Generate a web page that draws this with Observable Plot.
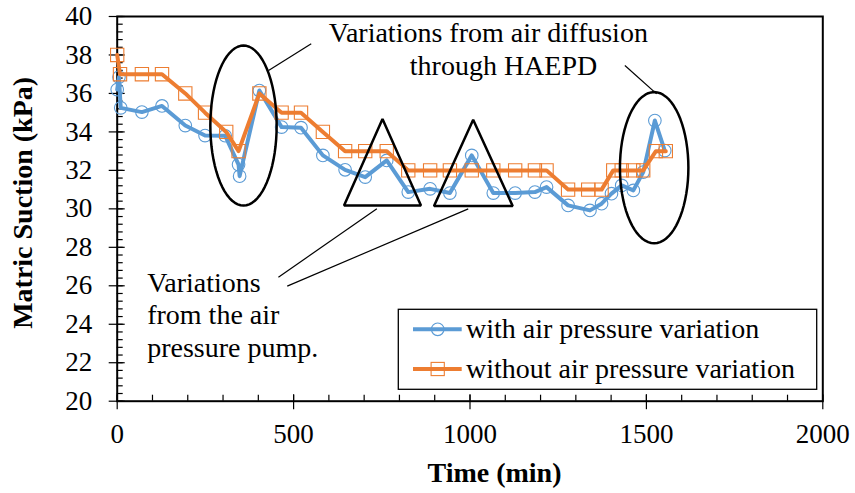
<!DOCTYPE html>
<html>
<head>
<meta charset="utf-8">
<script src="https://cdn.jsdelivr.net/npm/d3@7"></script>
<script src="https://cdn.jsdelivr.net/npm/@observablehq/plot@0.6"></script>
<style>
  html, body { margin: 0; padding: 0; background: #fff; }
  #chart { width: 855px; height: 493px; }
</style>
</head>
<body>
<div id="chart"></div>
<script>
// ---- Data ----
const seriesNames = ["with air pressure variation", "without air pressure variation"];
const seriesColors = ["#5B9BD5", "#ED7D31"];

const timeWith = [0, 5, 10, 70, 127, 193, 249, 306, 344, 347, 403, 466, 521, 583, 646, 703, 764, 825, 887, 943, 1005, 1066, 1128, 1184, 1217, 1278, 1340, 1373, 1401, 1430, 1463, 1491, 1524, 1552];
const suctionWith = [36.2, 36.85, 35.25, 35.03, 35.35, 34.33, 33.81, 33.8, 32.3, 31.7, 36.15, 34.25, 34.22, 32.78, 32.03, 31.65, 32.52, 30.87, 31.04, 30.82, 32.78, 30.82, 30.82, 30.87, 31.13, 30.18, 29.92, 30.27, 30.79, 31.22, 30.96, 31.91, 34.59, 33.03];

const timeWithout = [0, 8, 70, 127, 193, 249, 309, 344, 403, 466, 521, 583, 646, 703, 764, 825, 887, 943, 1005, 1066, 1128, 1184, 1217, 1278, 1335, 1373, 1406, 1430, 1463, 1491, 1527, 1555];
const suctionWithout = [38, 37, 37, 37, 36, 35, 34, 33, 36, 35, 35, 34, 33, 33, 33, 32, 32, 32, 32, 32, 32, 32, 32, 31, 31, 31, 32, 32, 32, 32, 33, 33];

// Axis ticks
const xMajorTicks = [0, 500, 1000, 1500, 2000];
const xMinorTicks = d3.range(0, 2001, 100);
const yMajorTicks = [20, 22, 24, 26, 28, 30, 32, 34, 36, 38, 40];
const yMinorTicks = d3.range(20, 40.001, 0.4).map(v => +v.toFixed(1));
const xTitle = "Time (min)";
const yTitle = "Matric Suction (kPa)";

// Annotations (data coordinates)
const ellipseCx = [358, 1522];
const ellipseCy = [34.33, 32.14];
const ellipseRx = [94, 97];
const ellipseRy = [4.16, 3.93];

const triangleX = [[643, 752, 861], [898, 1009, 1121]];
const triangleY = [[30.18, 34.67, 30.18], [30.15, 34.63, 30.15]];

const leaderX1 = [429, 1439, 457, 482];
const leaderY1 = [37.19, 37.45, 26.45, 25.98];
const leaderX2 = [550, 1529, 736, 995];
const leaderY2 = [38.58, 35.98, 30.0, 30.0];

const noteLabels = ["Variations from air diffusion", "through HAEPD"];
const noteX = [1052, 1095];
const noteY = [39.13, 37.40];
const pumpNote = "Variations\nfrom the air\npressure pump.";
const pumpNoteX = 85;
const pumpNoteY = 26.88;

// ---- Build tables ----
const withData = timeWith.map((t, i) => ({t, s: suctionWith[i]}));
const withoutData = timeWithout.map((t, i) => ({t, s: suctionWithout[i]}));

const ellipsePts = [];
ellipseCx.forEach((cx, k) => {
  d3.range(0, 73).forEach(j => {
    const a = (j / 72) * 2 * Math.PI;
    ellipsePts.push({k, x: cx + ellipseRx[k] * Math.cos(a), y: ellipseCy[k] + ellipseRy[k] * Math.sin(a)});
  });
});
const trianglePts = [];
triangleX.forEach((xs, k) => xs.forEach((x, j) => trianglePts.push({k, x, y: triangleY[k][j]})));
const leaders = leaderX1.map((x1, i) => ({x1, y1: leaderY1[i], x2: leaderX2[i], y2: leaderY2[i]}));
const notes = noteLabels.map((label, i) => ({label, x: noteX[i], y: noteY[i]}));

const serif = "'Liberation Serif', 'Times New Roman', Times, serif";

// Legend render function
function legendMark(index, scales, values, dims) {
  const g = d3.create("svg:g").attr("font-family", serif);
  const right = dims.width - dims.marginRight - 5.6;
  const bottom = dims.height - dims.marginBottom - 11.4;
  const w = 418.4, h = 80;
  const left = right - w, top = bottom - h;
  g.append("rect").attr("x", left).attr("y", top).attr("width", w).attr("height", h)
    .attr("fill", "white").attr("stroke", "black").attr("stroke-width", 1.3);
  const rowsY = [top + 20, top + 59.7];
  seriesNames.forEach((name, i) => {
    const y = rowsY[i];
    g.append("line").attr("x1", left + 14.7).attr("x2", left + 63.4).attr("y1", y).attr("y2", y)
      .attr("stroke", seriesColors[i]).attr("stroke-width", 4);
    if (i === 0) {
      g.append("circle").attr("cx", left + 39.4).attr("cy", y).attr("r", 6.3)
        .attr("fill", "none").attr("stroke", seriesColors[i]).attr("stroke-width", 1.1);
    } else {
      g.append("rect").attr("x", left + 39.4 - 6.6).attr("y", y - 6.6).attr("width", 13.2).attr("height", 13.2)
        .attr("fill", "none").attr("stroke", seriesColors[i]).attr("stroke-width", 1.1);
    }
    g.append("text").attr("x", left + 67.7).attr("y", y).attr("dy", "0.32em")
      .attr("text-anchor", "start")
      .attr("font-size", 28).attr("fill", "black").text(name);
  });
  return g.node();
}

const chart = Plot.plot({
  width: 855,
  height: 493,
  marginLeft: 116.7,
  marginRight: 32.7,
  marginTop: 16,
  marginBottom: 92.3,
  style: {fontFamily: serif, background: "white", color: "black"},
  x: {domain: [0, 2000]},
  y: {domain: [20, 40]},
  marks: [
    // axis ticks
    Plot.axisX({ticks: xMinorTicks, tickSize: 6, dy: -6, tickFormat: () => "", label: null, strokeWidth: 1.2}),
    Plot.axisX({ticks: xMajorTicks, tickSize: 15, dy: -6.5, tickFormat: () => "", label: null, strokeWidth: 1.2}),
    Plot.axisX({ticks: xMajorTicks, tickSize: 0, tickPadding: 23, fontSize: 27, label: null, tickFormat: d => String(d)}),
    Plot.axisY({ticks: yMinorTicks, tickSize: 6, dx: 6, tickFormat: () => "", label: null, strokeWidth: 1.2}),
    Plot.axisY({ticks: yMajorTicks, tickSize: 16, dx: 8, tickFormat: () => "", label: null, strokeWidth: 1.2}),
    Plot.axisY({ticks: yMajorTicks, tickSize: 0, tickPadding: 25, fontSize: 27, label: null, tickFormat: d => String(d)}),
    Plot.frame({stroke: "black", strokeWidth: 2}),
    // series
    Plot.line(withData, {x: "t", y: "s", stroke: seriesColors[0], strokeWidth: 4, strokeLinejoin: "round"}),
    Plot.dot(withData, {x: "t", y: "s", r: 6.3, stroke: seriesColors[0], strokeWidth: 1.1, fill: "none"}),
    Plot.line(withoutData, {x: "t", y: "s", stroke: seriesColors[1], strokeWidth: 4, strokeLinejoin: "round"}),
    Plot.dot(withoutData, {x: "t", y: "s", symbol: "square", r: 7.5, stroke: seriesColors[1], strokeWidth: 1.1, fill: "none"}),
    // annotations
    Plot.line(ellipsePts, {x: "x", y: "y", z: "k", stroke: "black", strokeWidth: 2.5, curve: "linear-closed"}),
    Plot.line(trianglePts, {x: "x", y: "y", z: "k", stroke: "black", strokeWidth: 2.5, curve: "linear-closed", strokeLinejoin: "miter"}),
    Plot.link(leaders, {x1: "x1", y1: "y1", x2: "x2", y2: "y2", stroke: "black", strokeWidth: 1.2}),
    Plot.text(notes, {x: "x", y: "y", text: "label", fontSize: 28, fill: "black", textAnchor: "middle", lineAnchor: "middle"}),
    Plot.text([pumpNote], {x: () => pumpNoteX, y: () => pumpNoteY, text: d => d, fontSize: 28, fill: "black", textAnchor: "start", lineAnchor: "top", lineHeight: 1.16}),
    // titles
    Plot.text([yTitle], {frameAnchor: "left", dx: -94, dy: -6, rotate: -90, textAnchor: "middle", lineAnchor: "middle", text: d => d, fontSize: 28, fontWeight: "bold", fill: "black"}),
    Plot.text([xTitle], {frameAnchor: "bottom", dx: 24.5, dy: 72.3, textAnchor: "middle", lineAnchor: "middle", text: d => d, fontSize: 28, fontWeight: "bold", fill: "black"}),
    // legend
    legendMark
  ]
});
document.getElementById("chart").appendChild(chart);
</script>
</body>
</html>
